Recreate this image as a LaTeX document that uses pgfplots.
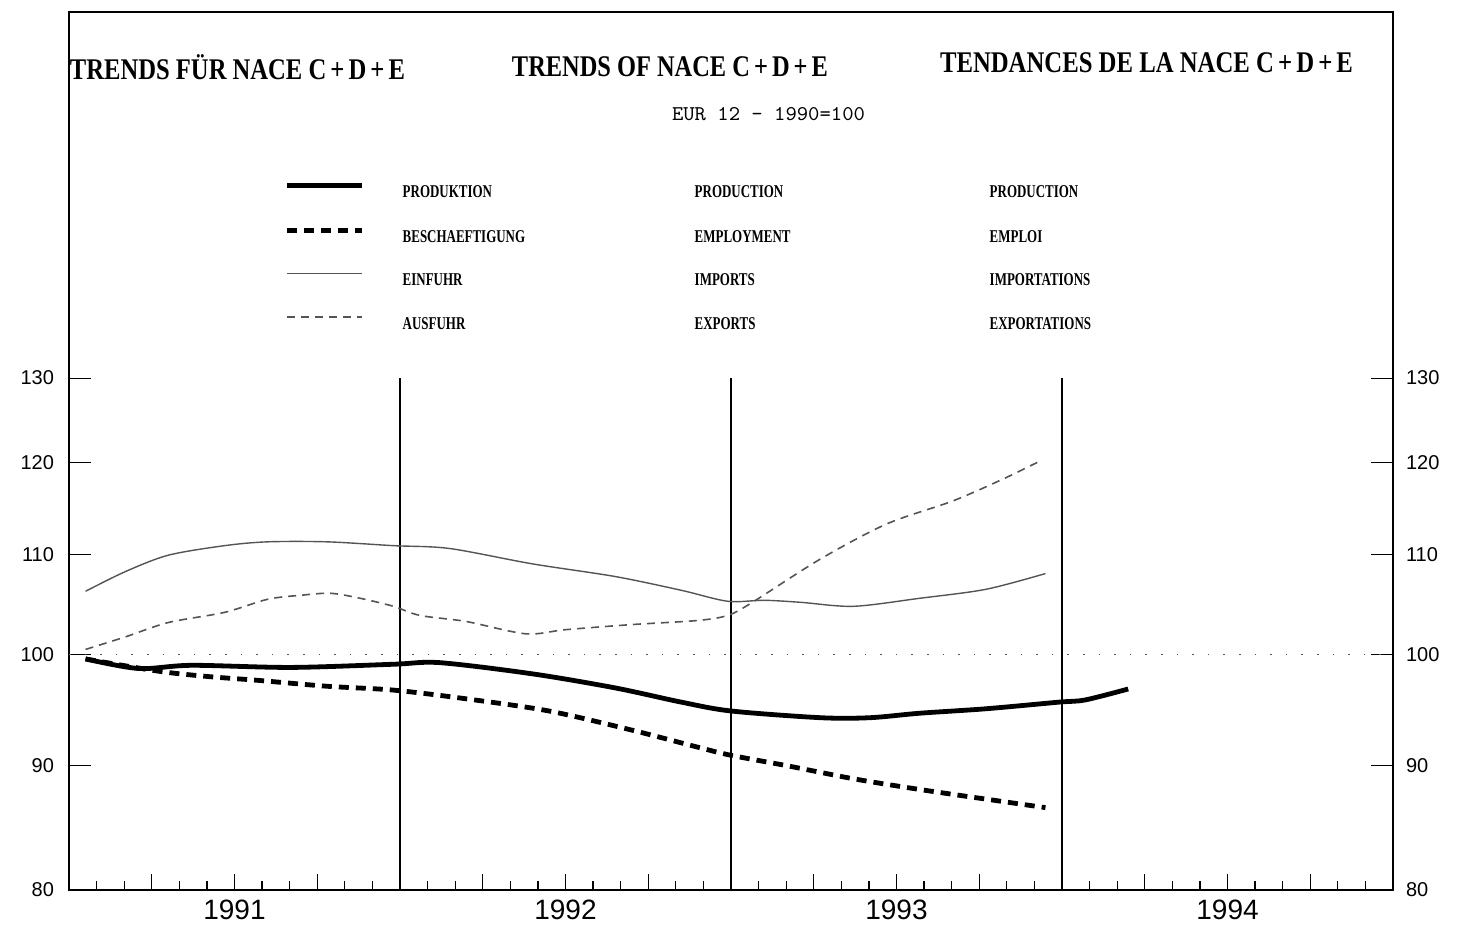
\documentclass[border=0pt]{standalone}
\usepackage{fontspec}
\usepackage{graphicx}
\usepackage{pgfplots}
\pgfplotsset{compat=1.18}
\newfontfamily\arial{Liberation Sans}
\newfontfamily\tserif{Liberation Serif}
\newcommand{\cond}[1]{\scalebox{0.72}[1]{\tserif\bfseries #1}}
\definecolor{lgray}{gray}{0.33}

\pgfplotstableread{
t v
0.05 99.6
0.21 98.7
0.37 99.0
0.67 98.8
0.98 99.1
1.12 99.25
1.40 98.2
1.65 96.9
1.85 95.6
2.00 94.8
2.27 94.2
2.42 94.2
2.57 94.6
2.77 95.0
2.99 95.6
3.07 95.8
3.20 96.8
}\production
\pgfplotstableread{
t v
0.05 99.6
0.27 98.45
0.42 97.95
0.57 97.6
0.78 97.05
0.98 96.7
1.20 95.9
1.45 94.8
1.70 93.1
1.90 91.6
2.00 90.9
2.17 90.0
2.37 88.9
2.57 88.0
2.77 87.2
2.95 86.5
}\employment
\pgfplotstableread{
t v
0.05 106.2
0.17 108.2
0.30 109.9
0.47 110.9
0.60 111.3
0.78 111.3
0.98 110.9
1.15 110.6
1.40 109.0
1.65 107.7
1.85 106.3
1.99 105.2
2.10 105.3
2.21 105.1
2.37 104.7
2.57 105.5
2.77 106.4
2.95 108.0
}\imports
\pgfplotstableread{
t v
0.05 100.5
0.17 101.7
0.30 103.1
0.47 104.1
0.60 105.4
0.70 105.8
0.79 106.0
0.88 105.5
0.98 104.7
1.06 103.8
1.20 103.2
1.38 102.0
1.50 102.4
1.70 102.9
1.90 103.3
1.99 103.8
2.06 105.0
2.27 109.5
2.47 113.2
2.67 115.7
2.82 118.1
2.93 120.1
}\exports

\begin{document}
\begin{tikzpicture}
\useasboundingbox (-34.5pt,-20pt) rectangle (697pt,445pt);
\begin{axis}[
  scale only axis, width=662pt, height=439pt,
  xmin=0, xmax=4, ymode=log, ymin=80, ymax=184,
  axis line style={line width=0.7pt},
  tick align=inside,
  xtick=\empty,
  ytick={80,90,100,110,120,130},
  yticklabels={80,90,100,110,120,130},
  minor ytick={},
  ytick pos=both,
  major tick length=11pt,
  tick style={black, line width=0.6pt},
  yticklabel style={font=\arial\fontsize{10}{11}\selectfont, xshift=-4pt},
  legend style={at={(0.1631,0.8052)}, anchor=north west, draw=none, fill=none,
    inner sep=0pt, outer sep=0pt, row sep=15.3pt, column sep=19pt,
    nodes={inner sep=0pt, text height=6pt, text depth=0pt, font=\fontsize{9}{10}\selectfont}},
  legend cell align=left,
  legend image code/.code={\draw[#1] (0pt,3pt) -- (37.5pt,3pt);},
]
\draw[lgray, line width=0.8pt, dash pattern=on 0.8pt off 7pt] (axis cs:0,100) -- (axis cs:4,100);
\draw[line width=0.6pt] (axis cs:1,80) -- (axis cs:1,130);
\draw[line width=0.6pt] (axis cs:2,80) -- (axis cs:2,130);
\draw[line width=0.6pt] (axis cs:3,80) -- (axis cs:3,130);

\addplot[black, line width=2.4pt, smooth] table[x=t,y=v] {\production};
\addlegendentry{\makebox[146pt][l]{\cond{PRODUKTION}}\makebox[147.5pt][l]{\cond{PRODUCTION}}\cond{PRODUCTION}}
\addplot[black, line width=2.4pt, dash pattern=on 5pt off 3.5pt, smooth] table[x=t,y=v] {\employment};
\addlegendentry{\makebox[146pt][l]{\cond{BESCHAEFTIGUNG}}\makebox[147.5pt][l]{\cond{EMPLOYMENT}}\cond{EMPLOI}}
\addplot[lgray, line width=0.7pt, smooth] table[x=t,y=v] {\imports};
\addlegendentry{\makebox[146pt][l]{\cond{EINFUHR}}\makebox[147.5pt][l]{\cond{IMPORTS}}\cond{IMPORTATIONS}}
\addplot[lgray, line width=0.8pt, dash pattern=on 4pt off 3pt, smooth] table[x=t,y=v] {\exports};
\addlegendentry{\makebox[146pt][l]{\cond{AUSFUHR}}\makebox[147.5pt][l]{\cond{EXPORTS}}\cond{EXPORTATIONS}}
\end{axis}

\begin{axis}[
  scale only axis, width=662pt, height=439pt,
  xmin=0, xmax=4, ymode=log, ymin=80, ymax=184,
  axis x line*=bottom, axis y line*=right,
  axis line style={line width=0.7pt, -},
  tick align=inside,
  xtick={0,0.25,0.5,0.75,1,1.25,1.5,1.75,2,2.25,2.5,2.75,3,3.25,3.5,3.75,4},
  xticklabels={,,1991,,,,1992,,,,1993,,,,1994,,},
  minor x tick num=2,
  major tick length=8pt, minor tick length=4.5pt,
  xtick style={black, line width=0.6pt},
  xticklabel style={font=\arial\fontsize{14}{16}\selectfont, yshift=-1.3pt},
  ytick={80,90,100,110,120,130},
  yticklabels={80,90,100,110,120,130},
  minor ytick={},
  ytick style={draw=none},
  yticklabel style={font=\arial\fontsize{10}{11}\selectfont, xshift=3pt},
]
\end{axis}

\node[anchor=base, inner sep=0pt] at (84.25pt,405pt)
  {\resizebox{167.5pt}{\height}{\fontsize{15}{17}\selectfont\tserif\bfseries TRENDS FÜR NACE C\,+\,D\,+\,E}};
\node[anchor=base, inner sep=0pt] at (300.5pt,406.5pt)
  {\resizebox{158pt}{\height}{\fontsize{15}{17}\selectfont\tserif\bfseries TRENDS OF NACE C\,+\,D\,+\,E}};
\node[anchor=base, inner sep=0pt] at (538.75pt,408.5pt)
  {\resizebox{206.5pt}{\height}{\fontsize{15}{17}\selectfont\tserif\bfseries TENDANCES DE LA NACE C\,+\,D\,+\,E}};
\node[anchor=base, inner sep=0pt] at (349.75pt,384.5pt)
  {\resizebox{96.5pt}{\height}{\fontsize{10.5}{12}\selectfont\ttfamily EUR 12 - 1990=100}};
\end{tikzpicture}
\end{document}
